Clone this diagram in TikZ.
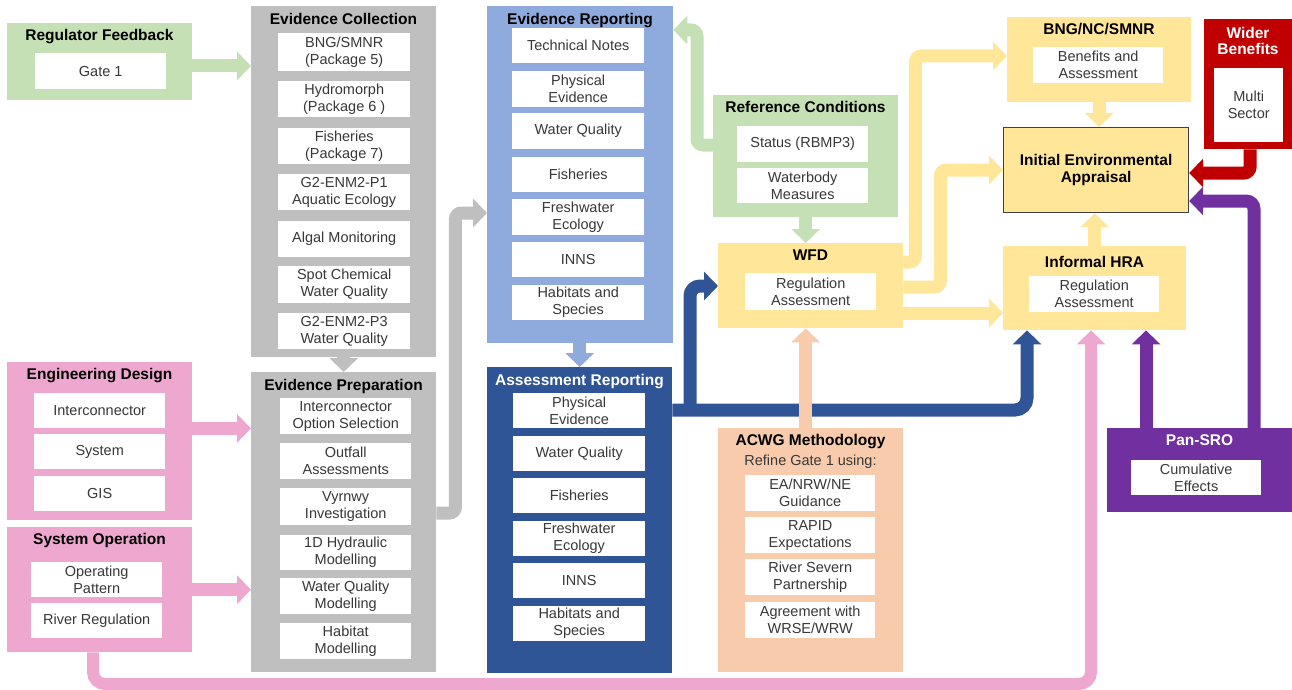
\documentclass[tikz,border=0pt]{standalone}
\usepackage{fontspec}
\setmainfont{Liberation Sans}
\usetikzlibrary{arrows.meta}

\definecolor{regGreen}{HTML}{C5E0B4}
\definecolor{evGrey}{HTML}{BFBFBF}
\definecolor{repBlue}{HTML}{8FAADC}
\definecolor{asrBlue}{HTML}{2F5597}
\definecolor{engPink}{HTML}{EEA8CF}
\definecolor{wfdYellow}{HTML}{FFE699}
\definecolor{acwgPeach}{HTML}{F8CBAD}
\definecolor{wbRed}{HTML}{C00000}
\definecolor{panPurple}{HTML}{7030A0}

\begin{document}
\begin{tikzpicture}[x=1pt, y=-1pt,
    panel/.style={rectangle, inner sep=0pt, anchor=north west},
    item/.style={rectangle, fill=white, inner sep=0pt, anchor=north west, minimum width=131, minimum height=36,
        align=center, text=black!78, font=\fontsize{14.5}{17}\selectfont},
    title/.style={inner sep=0pt, text height=12pt, text depth=1pt, font=\bfseries\fontsize{15.5}{17}\selectfont},
    flow/.style={line width=13pt, -{Triangle[width=28pt, length=14pt]}}]
\useasboundingbox (0,0) rectangle (1292,690);

% left column
\draw node[panel, fill=regGreen, minimum width=185, minimum height=77] (reg) at (7,23) {};
\draw node[title] (regT) at (99.5,35) {Regulator Feedback};
\draw node[item] (gate) at (35,53) {Gate 1};

\draw node[panel, fill=engPink, minimum width=185, minimum height=158] (eng) at (7,362) {};
\draw node[title] (engT) at (99.5,374) {Engineering Design};
\draw node[item, minimum height=35] (eng1) at (34,393) {Interconnector};
\draw node[item, minimum height=35] (eng2) at (34,434) {System};
\draw node[item, minimum height=35] (eng3) at (34,476) {GIS};

\draw node[panel, fill=engPink, minimum width=185, minimum height=125] (sys) at (7,527) {};
\draw node[title] (sysT) at (99.5,539) {System Operation};
\draw node[item, minimum height=35] (sys1) at (31,562) {Operating\\Pattern};
\draw node[item, minimum height=35] (sys2) at (31,603) {River Regulation};

% evidence
\draw node[panel, fill=evGrey, minimum width=185, minimum height=351] (col) at (251,6) {};
\draw node[title] (colT) at (343.5,19) {Evidence Collection};
\draw node[item, minimum width=132, minimum height=38] (col1) at (278,33) {BNG/SMNR\\(Package 5)};
\draw node[item, minimum width=132] (col2) at (278,81) {Hydromorph\\(Package 6 )};
\draw node[item, minimum width=132] (col3) at (278,128) {Fisheries\\(Package 7)};
\draw node[item, minimum width=132] (col4) at (278,174) {G2-ENM2-P1\\Aquatic Ecology};
\draw node[item, minimum width=132] (col5) at (278,221) {Algal Monitoring};
\draw node[item, minimum width=132, minimum height=37] (col6) at (278,266) {Spot Chemical\\Water Quality};
\draw node[item, minimum width=132] (col7) at (278,313) {G2-ENM2-P3\\Water Quality};

\draw node[panel, fill=evGrey, minimum width=185, minimum height=300] (prep) at (251,372) {};
\draw node[title] (prepT) at (343.5,385) {Evidence Preparation};
\draw node[item] (prep1) at (280,398) {Interconnector\\Option Selection};
\draw node[item] (prep2) at (280,443) {Outfall\\Assessments};
\draw node[item, minimum height=37] (prep3) at (280,488) {Vyrnwy\\Investigation};
\draw node[item, minimum height=35] (prep4) at (280,535) {1D Hydraulic\\Modelling};
\draw node[item] (prep5) at (280,578) {Water Quality\\Modelling};
\draw node[item] (prep6) at (280,623) {Habitat\\Modelling};

% reporting
\draw node[panel, fill=repBlue, minimum width=186, minimum height=337] (rep) at (487,6) {};
\draw node[title] (repT) at (580,19) {Evidence Reporting};
\draw node[item, minimum width=132, minimum height=35] (rep1) at (512,28) {Technical Notes};
\draw node[item, minimum width=132] (rep2) at (512,71) {Physical\\Evidence};
\draw node[item, minimum width=132] (rep3) at (512,113) {Water Quality};
\draw node[item, minimum width=132, minimum height=35] (rep4) at (512,157) {Fisheries};
\draw node[item, minimum width=132] (rep5) at (512,199) {Freshwater\\Ecology};
\draw node[item, minimum width=132, minimum height=35] (rep6) at (512,242) {INNS};
\draw node[item, minimum width=132, minimum height=35] (rep7) at (512,285) {Habitats and\\Species};

\draw node[panel, fill=asrBlue, minimum width=185, minimum height=306] (asr) at (487,367) {};
\draw node[title, text=white] (asrT) at (579.5,380) {Assessment Reporting};
\draw node[item, minimum width=132, minimum height=35] (asr1) at (513,393) {Physical\\Evidence};
\draw node[item, minimum width=132, minimum height=35] (asr2) at (513,436) {Water Quality};
\draw node[item, minimum width=132, minimum height=35] (asr3) at (513,478) {Fisheries};
\draw node[item, minimum width=132, minimum height=35] (asr4) at (513,521) {Freshwater\\Ecology};
\draw node[item, minimum width=132, minimum height=35] (asr5) at (513,563) {INNS};
\draw node[item, minimum width=132, minimum height=35] (asr6) at (513,606) {Habitats and\\Species};

% regulation
\draw node[panel, fill=regGreen, minimum width=185, minimum height=122] (ref) at (713,95) {};
\draw node[title] (refT) at (805.5,107) {Reference Conditions};
\draw node[item] (ref1) at (737,126) {Status (RBMP3)};
\draw node[item, minimum height=35] (ref2) at (737,168) {Waterbody\\Measures};

\draw node[panel, fill=wfdYellow, minimum width=185, minimum height=85] (wfd) at (718,243) {};
\draw node[title] (wfdT) at (810.5,255) {WFD};
\draw node[item, minimum height=37] (wfd1) at (745,273) {Regulation\\Assessment};

\draw node[panel, fill=acwgPeach, minimum width=185, minimum height=244] (acwg) at (718,428) {};
\draw node[title] (acwgT) at (810.5,440) {ACWG Methodology};
\draw node[inner sep=0pt, text=black!78, font=\fontsize{14.5}{17}\selectfont] (acwgN) at (810.5,462) {Refine Gate 1 using:};
\draw node[item, minimum width=130] (acwg1) at (745,475) {EA/NRW/NE\\Guidance};
\draw node[item, minimum width=130] (acwg2) at (745,517) {RAPID\\Expectations};
\draw node[item, minimum width=130] (acwg3) at (745,559) {River Severn\\Partnership};
\draw node[item, minimum width=130] (acwg4) at (745,602) {Agreement with\\WRSE/WRW};

% appraisal
\draw node[panel, fill=wfdYellow, minimum width=184, minimum height=85] (bng) at (1007,17) {};
\draw node[title] (bngT) at (1099,29) {BNG/NC/SMNR};
\draw node[item, minimum width=130] (bng1) at (1033,47) {Benefits and\\Assessment};

\draw node[panel, fill=wfdYellow, draw=black!75, line width=1.2pt, minimum width=185, minimum height=85,
    align=center, font=\bfseries\fontsize{15.5}{17}\selectfont] (iea) at (1003,127) {Initial Environmental\\Appraisal};

\draw node[panel, fill=wfdYellow, minimum width=183, minimum height=84] (hra) at (1003,246) {};
\draw node[title] (hraT) at (1094.5,262) {Informal HRA};
\draw node[item, minimum width=130] (hra1) at (1029,276) {Regulation\\Assessment};

\draw node[panel, fill=wbRed, minimum width=88, minimum height=130] (wb) at (1204,19) {};
\draw node[inner sep=0pt, align=center, text=white, font=\bfseries\fontsize{15.5}{16}\selectfont] (wbT) at (1248,41) {Wider\\Benefits};
\draw node[item, minimum width=69, minimum height=74] (wb1) at (1214,68) {Multi\\Sector};

\draw node[panel, fill=panPurple, minimum width=185, minimum height=84] (pan) at (1107,428) {};
\draw node[title, text=white] (panT) at (1199.5,440) {Pan-SRO};
\draw node[item, minimum width=130, minimum height=35] (pan1) at (1131,460) {Cumulative\\Effects};

% flows
\draw[flow, regGreen] (reg.east |- 0,66) to (col.west |- 0,66);
\draw[flow, engPink] (eng.east |- eng1.south) to (prep.west |- eng1.south);
\draw[flow, engPink] (sys.east) to (sys.east -| prep.west);
\draw[flow, evGrey] (col.south) to (prep.north);
\draw[flow, evGrey, rounded corners=6pt] (prep.east |- 0,513) -- ++(19,0) |- (rep.west |- 0,213);
\draw[flow, repBlue] (rep.south -| asr.north) to (asr.north);
\draw[flow, regGreen, rounded corners=6pt] (ref.west |- 0,145) -- ++(-16,0) |- (rep.east |- 0,30);
\draw[flow, regGreen] (ref.south) to (ref.south |- wfd.north);

\coordinate (split) at (690,410);
\draw[flow, asrBlue, rounded corners=12pt] (asr.east |- 0,410) -| (1027,0 |- hra.south);
\draw[flow, asrBlue, rounded corners=10pt] (split) |- (wfd.west |- 0,286);
\draw[flow, acwgPeach] (acwg.north -| ref.south) to (ref.south |- wfd.south);

\draw[flow, wfdYellow, rounded corners=6pt] (wfd.east |- 0,262) -- ++(12,0) |- (bng.west |- 0,56);
\draw[flow, wfdYellow, rounded corners=6pt] (wfd.east |- 0,287) -- ++(37,0) |- (iea.west |- 0,170);
\draw[flow, wfdYellow] (wfd.east |- 0,313) to (hra.west |- 0,313);
\draw[flow, wfdYellow] (bng.south) to (bng.south |- iea.north);
\draw[flow, wfdYellow] (hra.north) to (hra.north |- iea.south);

\draw[flow, wbRed, rounded corners=6pt] (1250,0 |- wb.south) |- (iea.east |- 0,173);
\draw[flow, panPurple, rounded corners=8pt] (1254,0 |- pan.north) |- (iea.east |- 0,201);
\draw[flow, panPurple] (1146,0 |- pan.north) to (1146,0 |- hra.south);
\draw[flow, engPink, line width=12pt, rounded corners=12pt] (93,0 |- sys.south) -- (93,684) -| (1091,0 |- hra.south);
\end{tikzpicture}
\end{document}
